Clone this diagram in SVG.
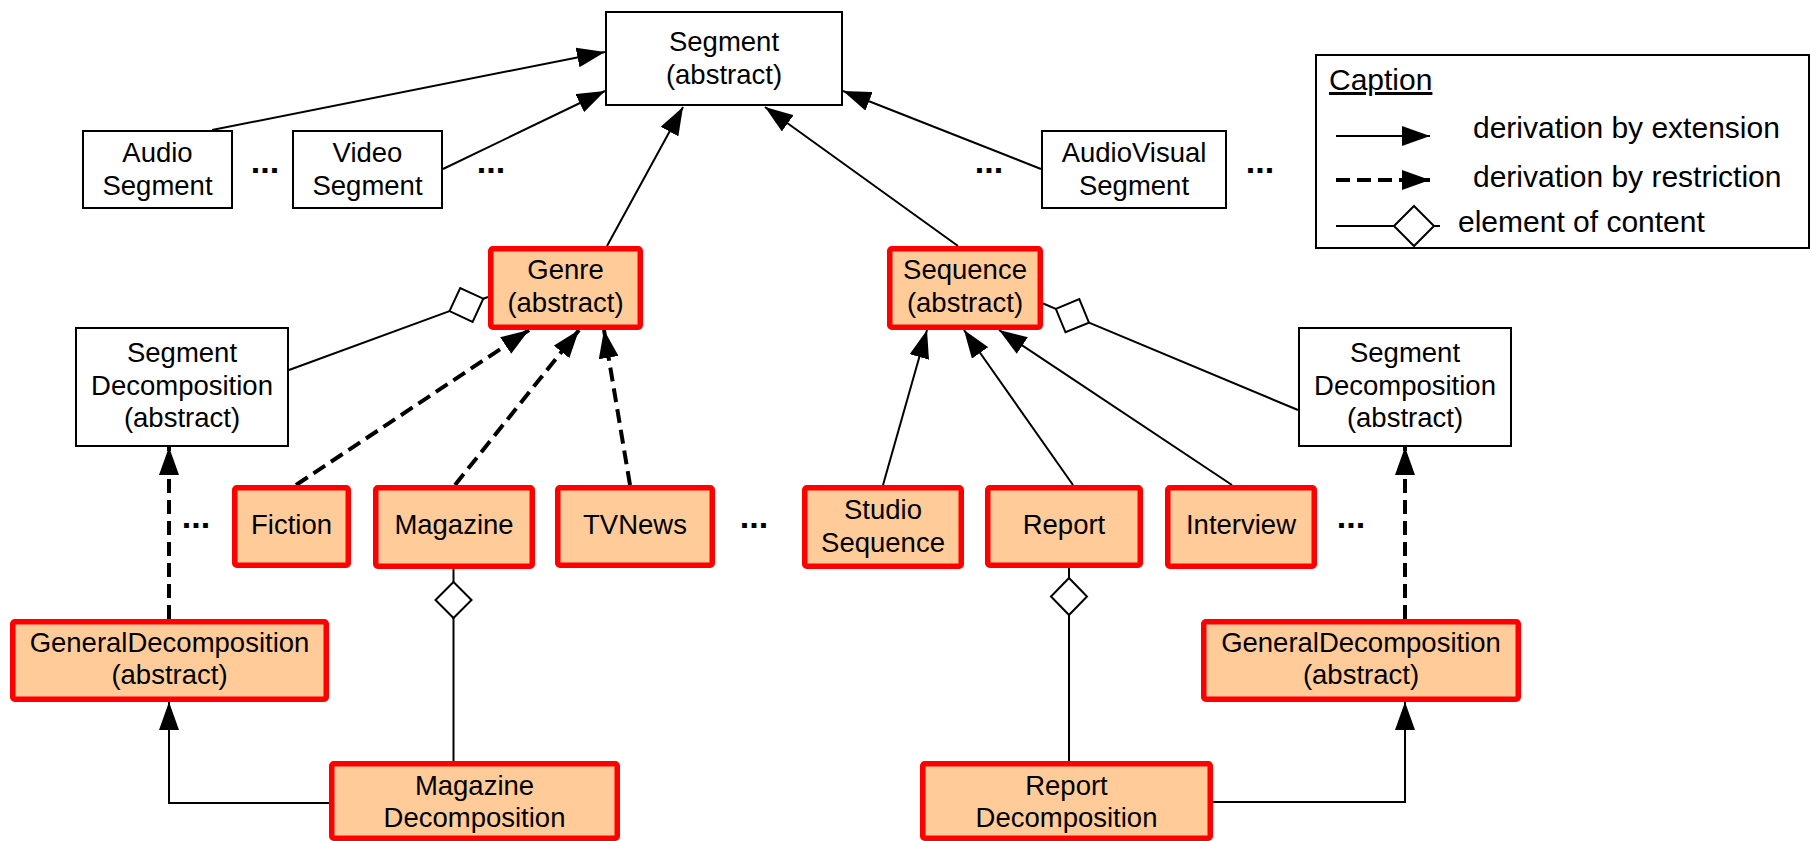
<svg xmlns="http://www.w3.org/2000/svg" width="1812" height="841" viewBox="0 0 1812 841">
<style>
.w{fill:#fff;stroke:#000;stroke-width:2}
.r{fill:#FFCC99;stroke:#FF0000;stroke-width:5.5}
.t{font-family:"Liberation Sans",Arial,sans-serif;font-size:27.5px;fill:#000;text-anchor:middle}
.c{font-family:"Liberation Sans",Arial,sans-serif;font-size:30px;fill:#000}
.d{font-family:"Liberation Sans",Arial,sans-serif;font-size:34px;font-weight:bold;fill:#000;text-anchor:middle}
.s{fill:none;stroke:#000;stroke-width:2}
.ds{fill:none;stroke:#000;stroke-width:4;stroke-dasharray:14 7}
.dm{fill:#fff;stroke:#000;stroke-width:2;stroke-linejoin:miter}
</style>
<defs>
<marker id="ah" markerUnits="userSpaceOnUse" viewBox="0 0 28 20" markerWidth="28" markerHeight="20" refX="28" refY="10" orient="auto">
<path d="M0,0 L28,10 L0,20 Z" fill="#000" stroke="none"/>
</marker>
</defs>
<rect width="1812" height="841" fill="#fff"/>
<g id="connectors">
<line class="s" x1="212" y1="130" x2="605" y2="52" marker-end="url(#ah)"/>
<line class="s" x1="443" y1="169" x2="605" y2="91" marker-end="url(#ah)"/>
<line class="s" x1="607" y1="246" x2="683" y2="107" marker-end="url(#ah)"/>
<line class="s" x1="958" y1="246" x2="765" y2="107" marker-end="url(#ah)"/>
<line class="s" x1="1041" y1="169" x2="843" y2="91" marker-end="url(#ah)"/>
<line class="ds" x1="296" y1="485" x2="529" y2="330" marker-end="url(#ah)"/>
<line class="ds" x1="455" y1="485" x2="579" y2="330" marker-end="url(#ah)"/>
<line class="ds" x1="630" y1="485" x2="604" y2="330" marker-end="url(#ah)"/>
<line class="s" x1="883" y1="485" x2="927" y2="330" marker-end="url(#ah)"/>
<line class="s" x1="1073" y1="485" x2="964" y2="330" marker-end="url(#ah)"/>
<line class="s" x1="1232" y1="485" x2="999" y2="330" marker-end="url(#ah)"/>
<line class="ds" x1="169" y1="619" x2="169" y2="447" marker-end="url(#ah)"/>
<line class="ds" x1="1405" y1="619" x2="1405" y2="447" marker-end="url(#ah)"/>
<polyline class="s" points="329,803 169,803 169,702" marker-end="url(#ah)"/>
<polyline class="s" points="1213,802 1405,802 1405,702" marker-end="url(#ah)"/>
<line class="s" x1="289" y1="370" x2="449.5" y2="311.1"/>
<line class="s" x1="483.3" y1="298.7" x2="488" y2="297"/>
<polygon class="dm" points="449.5,311.1 460.2,288 483.3,298.7 472.6,321.8"/>
<line class="s" x1="1042" y1="303" x2="1055.8" y2="308.8"/>
<line class="s" x1="1089" y1="322.7" x2="1298" y2="410"/>
<polygon class="dm" points="1055.8,308.8 1079.3,299.1 1089,322.7 1065.5,332.3"/>
<line class="s" x1="453.5" y1="569" x2="453.5" y2="761"/>
<polygon class="dm" points="453.5,582 471.5,600 453.5,618 435.5,600"/>
<line class="s" x1="1069" y1="568" x2="1069" y2="761"/>
<polygon class="dm" points="1069,578 1087,596.5 1069,615 1051,596.5"/>
</g>
<g id="segment"><rect class="w" x="606" y="12" width="236" height="93"/><text class="t" x="724" y="51">Segment</text><text class="t" x="724" y="84">(abstract)</text></g>
<g id="audio-segment"><rect class="w" x="83" y="131" width="149" height="77"/><text class="t" x="157.5" y="162">Audio</text><text class="t" x="157.5" y="195">Segment</text></g>
<g id="video-segment"><rect class="w" x="293" y="131" width="149" height="77"/><text class="t" x="367.5" y="162">Video</text><text class="t" x="367.5" y="195">Segment</text></g>
<g id="audiovisual-segment"><rect class="w" x="1042" y="131" width="184" height="77"/><text class="t" x="1134" y="162">AudioVisual</text><text class="t" x="1134" y="195">Segment</text></g>
<g id="dots"><text class="d" x="265" y="173">...</text><text class="d" x="491" y="173">...</text><text class="d" x="989" y="173">...</text><text class="d" x="1260" y="173">...</text><text class="d" x="196" y="528">...</text><text class="d" x="754" y="528">...</text><text class="d" x="1351" y="528">...</text></g>
<g id="genre"><rect class="r" x="490.75" y="248.75" width="149.5" height="78.5" rx="2"/><text class="t" x="565.5" y="279">Genre</text><text class="t" x="565.5" y="312">(abstract)</text></g>
<g id="sequence"><rect class="r" x="889.75" y="248.75" width="150.5" height="78.5" rx="2"/><text class="t" x="965" y="279">Sequence</text><text class="t" x="965" y="312">(abstract)</text></g>
<g id="segdecomp-left"><rect class="w" x="76" y="328" width="212" height="118"/><text class="t" x="182" y="362">Segment</text><text class="t" x="182" y="395">Decomposition</text><text class="t" x="182" y="427">(abstract)</text></g>
<g id="segdecomp-right"><rect class="w" x="1299" y="328" width="212" height="118"/><text class="t" x="1405" y="362">Segment</text><text class="t" x="1405" y="395">Decomposition</text><text class="t" x="1405" y="427">(abstract)</text></g>
<g id="fiction"><rect class="r" x="234.75" y="487.75" width="113.5" height="77.5" rx="2"/><text class="t" x="291.5" y="534">Fiction</text></g>
<g id="magazine"><rect class="r" x="375.75" y="487.75" width="156.5" height="78.5" rx="2"/><text class="t" x="454" y="534">Magazine</text></g>
<g id="tvnews"><rect class="r" x="557.75" y="487.75" width="154.5" height="77.5" rx="2"/><text class="t" x="635" y="534">TVNews</text></g>
<g id="studio-sequence"><rect class="r" x="804.75" y="487.75" width="156.5" height="78.5" rx="2"/><text class="t" x="883" y="519">Studio</text><text class="t" x="883" y="552">Sequence</text></g>
<g id="report"><rect class="r" x="987.75" y="487.75" width="152.5" height="77.5" rx="2"/><text class="t" x="1064" y="534">Report</text></g>
<g id="interview"><rect class="r" x="1167.75" y="487.75" width="146.5" height="78.5" rx="2"/><text class="t" x="1241" y="534">Interview</text></g>
<g id="gendecomp-left"><rect class="r" x="12.75" y="621.75" width="313.5" height="77.5" rx="2"/><text class="t" x="169.5" y="652">GeneralDecomposition</text><text class="t" x="169.5" y="684">(abstract)</text></g>
<g id="gendecomp-right"><rect class="r" x="1203.75" y="621.75" width="314.5" height="77.5" rx="2"/><text class="t" x="1361" y="652">GeneralDecomposition</text><text class="t" x="1361" y="684">(abstract)</text></g>
<g id="magazine-decomposition"><rect class="r" x="331.75" y="763.75" width="285.5" height="74.5" rx="2"/><text class="t" x="474.5" y="795">Magazine</text><text class="t" x="474.5" y="827">Decomposition</text></g>
<g id="report-decomposition"><rect class="r" x="922.75" y="763.75" width="287.5" height="74.5" rx="2"/><text class="t" x="1066.5" y="795">Report</text><text class="t" x="1066.5" y="827">Decomposition</text></g>
<g id="caption">
<rect class="w" x="1316" y="55" width="493" height="193"/>
<text class="c" x="1329" y="90" text-decoration="underline">Caption</text>
<line class="s" x1="1336" y1="136" x2="1430" y2="136" marker-end="url(#ah)"/>
<text class="c" x="1473" y="138">derivation by extension</text>
<line class="ds" x1="1336" y1="180" x2="1430" y2="180" marker-end="url(#ah)"/>
<text class="c" x="1473" y="187">derivation by restriction</text>
<line class="s" x1="1336" y1="226" x2="1440" y2="226"/>
<polygon class="dm" points="1394,226 1414,206 1434,226 1414,246"/>
<text class="c" x="1458" y="232">element of content</text>
</g>
</svg>
